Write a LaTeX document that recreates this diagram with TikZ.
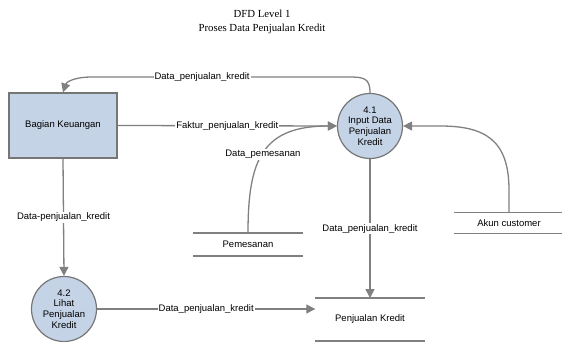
\documentclass[tikz,border=0pt]{standalone}
\usepackage{fontspec}
\setmainfont{Liberation Serif}
\setsansfont{Liberation Sans}
\usetikzlibrary{arrows.meta}
\definecolor{procfill}{HTML}{C5D3E6}
\definecolor{edgegray}{HTML}{808080}
\definecolor{rimgray}{HTML}{767676}

\begin{document}
\begin{tikzpicture}[x=1pt,y=-1pt,
  every node/.style={font=\sffamily\fontsize{9.5}{10.8}\selectfont},
  entity/.style={draw=rimgray, fill=procfill, line width=1.2pt,
    minimum width=108pt, minimum height=65pt, inner sep=0pt},
  proc/.style={circle, draw=rimgray, fill=procfill, line width=1.2pt,
    minimum size=65pt, inner sep=0pt, align=center},
  store/.style={minimum width=109pt, inner sep=0pt},
  storeline/.style={draw=edgegray, line width=1.2pt},
  flow/.style={draw=edgegray, line width=1.3pt, -{Triangle[length=9pt,width=9pt]}},
  lbl/.style={fill=white, inner sep=1pt},
  ]
  \useasboundingbox (0,0) rectangle (562,342);

  % title
  \node[font=\rmfamily\fontsize{10.8}{14.5}\selectfont, align=center] (title)
    at (262,22) {DFD Level 1\\Proses Data Penjualan Kredit};

  % external entity and processes
  \node[entity] (bk) at (63,125.5) {Bagian Keuangan};
  \node[proc] (p41) at (370,126) {4.1\\Input Data\\Penjualan\\Kredit};
  \node[proc] (p42) at (64,309) {4.2\\Lihat\\Penjualan\\Kredit};

  % data stores
  \node[store, minimum height=22.5pt] (pem) at (248,244.5) {Pemesanan};
  \node[store, minimum height=20.5pt] (ak) at (509,223) {Akun customer};
  \node[store, minimum height=42.5pt] (pk) at (370,319.5) {Penjualan Kredit};
  \foreach \s in {pem,ak,pk}
    \draw[storeline] (\s.north west) -- (\s.north east) (\s.south west) -- (\s.south east);

  % data flows
  \draw[flow] (p41.north) .. controls (370,78) and (364,77) .. (348,77)
    -- node[lbl, pos=0.57] {Data\_penjualan\_kredit} (92,77)
    .. controls (72,77) and (66,83) .. (bk.north);

  \draw[flow] (bk.east) -- node[lbl] {Faktur\_penjualan\_kredit} (p41.west);

  \draw[flow] (pem.north) .. controls (248,160) and (262,126)
    .. node[lbl, pos=0.48] {Data\_pemesanan} (p41.west);

  \draw[flow] (ak.north) -- (509,190) .. controls (509,140) and (485,126) .. (440,126)
    -- (p41.east);

  \draw[flow] (p41.south) -- node[lbl] {Data\_penjualan\_kredit} (pk.north);

  \draw[flow] (bk.south) -- node[lbl] {Data-penjualan\_kredit} (p42.north);

  \draw[flow] (p42.east) -- node[lbl] {Data\_penjualan\_kredit} (p42.east -| pk.west);
\end{tikzpicture}
\end{document}
